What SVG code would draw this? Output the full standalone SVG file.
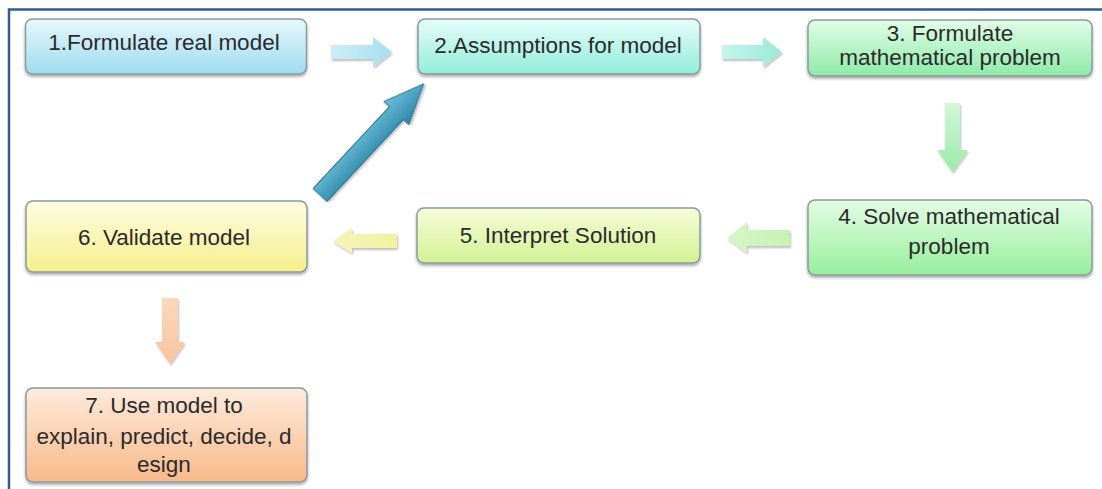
<svg xmlns="http://www.w3.org/2000/svg" width="1102" height="489" viewBox="0 0 1102 489">
<defs>
<style>
.box{stroke:#8b9a9c;stroke-width:1.5;filter:url(#sh)}
.t{font-family:"Liberation Sans",Arial,sans-serif;font-size:22.5px;fill:#2b2b2b;text-anchor:middle}
.frame{stroke:#2f5f8c;stroke-width:2.5;fill:none}
</style>
<filter id="sh" x="-5%" y="-10%" width="110%" height="130%">
<feDropShadow dx="0" dy="2" stdDeviation="1.5" flood-color="#000" flood-opacity="0.35"/>
</filter>
<filter id="ash" x="-20%" y="-20%" width="140%" height="140%">
<feDropShadow dx="1" dy="2" stdDeviation="1.2" flood-color="#000" flood-opacity="0.25"/>
</filter>
<linearGradient id="g1" x1="0" y1="0" x2="0" y2="1"><stop offset="0" stop-color="#e8f8fd"/><stop offset="1" stop-color="#9edbef"/></linearGradient>
<linearGradient id="g2" x1="0" y1="0" x2="0" y2="1"><stop offset="0" stop-color="#e6fcf8"/><stop offset="1" stop-color="#92eddc"/></linearGradient>
<linearGradient id="g3" x1="0" y1="0" x2="0" y2="1"><stop offset="0" stop-color="#e2fde8"/><stop offset="1" stop-color="#8eeaa8"/></linearGradient>
<linearGradient id="g4" x1="0" y1="0" x2="0" y2="1"><stop offset="0" stop-color="#e4fde4"/><stop offset="1" stop-color="#96ee9c"/></linearGradient>
<linearGradient id="g5" x1="0" y1="0" x2="0" y2="1"><stop offset="0" stop-color="#f7fcd8"/><stop offset="1" stop-color="#d2f294"/></linearGradient>
<linearGradient id="g6" x1="0" y1="0" x2="0" y2="1"><stop offset="0" stop-color="#fefde2"/><stop offset="1" stop-color="#f5ef8c"/></linearGradient>
<linearGradient id="g7" x1="0" y1="0" x2="0" y2="1"><stop offset="0" stop-color="#fdebdc"/><stop offset="1" stop-color="#f8b98a"/></linearGradient>
<linearGradient id="a1" x1="0" y1="0" x2="1" y2="0"><stop offset="0" stop-color="#cdeef8"/><stop offset="1" stop-color="#a6def1"/></linearGradient>
<linearGradient id="a2" x1="0" y1="0" x2="1" y2="0"><stop offset="0" stop-color="#c4f5ec"/><stop offset="1" stop-color="#9be9d8"/></linearGradient>
<linearGradient id="a3" x1="0" y1="0" x2="0" y2="1"><stop offset="0" stop-color="#d0f8d8"/><stop offset="1" stop-color="#9ce9a6"/></linearGradient>
<linearGradient id="a4" x1="1" y1="0" x2="0" y2="0"><stop offset="0" stop-color="#c4f2b4"/><stop offset="1" stop-color="#d8f6c8"/></linearGradient>
<linearGradient id="a5" x1="1" y1="0" x2="0" y2="0"><stop offset="0" stop-color="#f2f2a0"/><stop offset="1" stop-color="#f6f4b8"/></linearGradient>
<linearGradient id="a6" x1="0" y1="0" x2="0" y2="1"><stop offset="0" stop-color="#fbd9bd"/><stop offset="1" stop-color="#f7c49c"/></linearGradient>
<linearGradient id="ad" x1="0" y1="0" x2="0" y2="1"><stop offset="0" stop-color="#6cc0da"/><stop offset="1" stop-color="#2c84a6"/></linearGradient>
</defs>
<rect width="1102" height="489" fill="#ffffff"/>
<path class="frame" d="M9,489 V9.5 H1102"/>

<g id="connectors">
<polygon filter="url(#ash)" fill="url(#a1)" points="331,45 373,45 373,37 392,52 373,67 373,59 331,59"/>
<polygon filter="url(#ash)" fill="url(#a2)" points="722,45 763,45 763,37 782,52 763,67 763,59 722,59"/>
<polygon filter="url(#ash)" fill="url(#a3)" points="945,103 960,103 960,150 968,150 952.5,172 937,150 945,150"/>
<polygon filter="url(#ash)" fill="url(#a4)" points="790,230 747,230 747,222 727,238 747,253 747,246 790,246"/>
<polygon filter="url(#ash)" fill="url(#a5)" points="397,234 352,234 352,228 333,241 352,253 352,248 397,248"/>
<polygon filter="url(#ash)" fill="url(#a6)" points="162,298 178,298 178,342 185,342 170,364 155,342 162,342"/>
<polygon filter="url(#ash)" fill="url(#ad)" stroke="#2a7090" stroke-width="1" transform="translate(320,195) rotate(-47)" points="0,-9.5 112,-9.5 112,-17 152,0 112,17 112,9.5 0,9.5"/>
</g>

<g id="n1">
<rect class="box" x="25.5" y="19" width="281" height="55" rx="7" fill="url(#g1)"/>
<text class="t" x="164" y="50">1.Formulate real model</text>
</g>
<g id="n2">
<rect class="box" x="418" y="19" width="282" height="55" rx="7" fill="url(#g2)"/>
<text class="t" x="558" y="53">2.Assumptions for model</text>
</g>
<g id="n3">
<rect class="box" x="808" y="20" width="284" height="56" rx="7" fill="url(#g3)"/>
<text class="t" x="950" y="41">3. Formulate</text>
<text class="t" x="950" y="65">mathematical problem</text>
</g>
<g id="n4">
<rect class="box" x="808" y="200" width="284" height="75" rx="7" fill="url(#g4)"/>
<text class="t" x="949" y="224">4. Solve mathematical</text>
<text class="t" x="949" y="254">problem</text>
</g>
<g id="n5">
<rect class="box" x="417" y="208" width="283" height="55" rx="7" fill="url(#g5)"/>
<text class="t" x="558" y="243">5. Interpret Solution</text>
</g>
<g id="n6">
<rect class="box" x="26" y="201" width="281" height="71" rx="7" fill="url(#g6)"/>
<text class="t" x="164" y="245">6. Validate model</text>
</g>
<g id="n7">
<rect class="box" x="26" y="388" width="281" height="94" rx="7" fill="url(#g7)"/>
<text class="t" x="164" y="413">7. Use model to</text>
<text class="t" x="164" y="444">explain, predict, decide, d</text>
<text class="t" x="164" y="472">esign</text>
</g>
</svg>
